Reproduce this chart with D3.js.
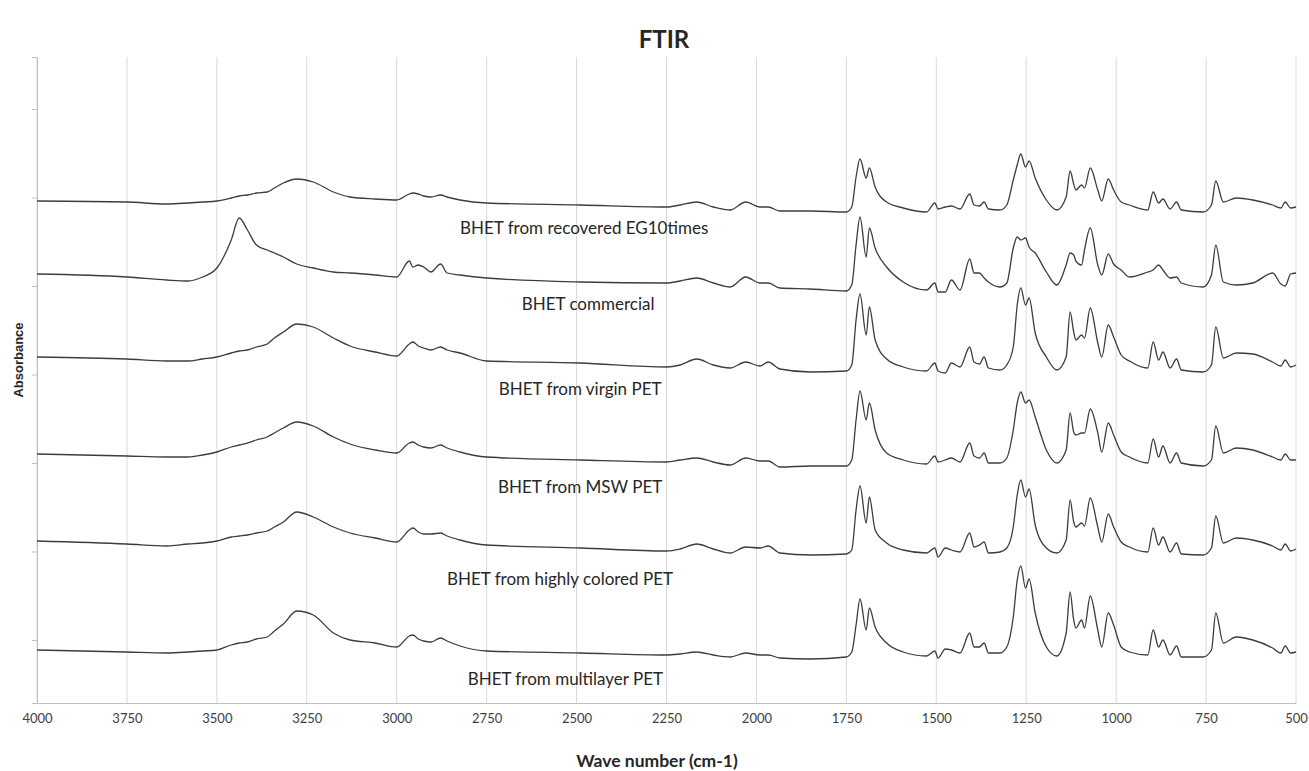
<!DOCTYPE html>
<html>
<head>
<meta charset="utf-8">
<script src="https://cdn.jsdelivr.net/npm/d3@7"></script>
<style>
  body { margin: 0; background: #fff; }
  text { fill: #262626; }
</style>
</head>
<body>
<script>
'use strict';

// wave numbers (cm-1) shared by every spectrum
const wavenumbers = [4000, 3750, 3640, 3580, 3540, 3500, 3460, 3438, 3415, 3390,
  3360, 3340, 3315, 3278, 3232, 3176, 3130, 3060, 3000, 2965,
  2955, 2940, 2925, 2905, 2878, 2860, 2824, 2750, 2490, 2250,
  2212, 2166, 2120, 2073, 2030, 1990, 1967, 1935, 1850, 1750,
  1735, 1723, 1712, 1695, 1686, 1670, 1638, 1592, 1527, 1504,
  1495, 1475, 1458, 1434, 1407, 1395, 1380, 1367, 1355, 1323,
  1304, 1286, 1275, 1265, 1252, 1242, 1225, 1194, 1165, 1139,
  1128, 1118, 1112, 1096, 1088, 1072, 1051, 1040, 1022, 1007,
  986, 963, 912, 897, 882, 870, 850, 832, 819, 758,
  735, 723, 702, 666, 620, 565, 542, 530, 515, 500];

// absorbance (stacked, arbitrary units)
const absRecovered = [5.02, 5.01, 4.99, 5.00, 5.01, 5.02, 5.05, 5.07, 5.08, 5.10,
  5.11, 5.15, 5.20, 5.24, 5.21, 5.11, 5.06, 5.04, 5.03, 5.09,
  5.10, 5.09, 5.07, 5.06, 5.08, 5.06, 5.03, 5.00, 4.98, 4.96,
  4.98, 5.01, 4.96, 4.93, 5.01, 4.96, 4.96, 4.92, 4.92, 4.91,
  4.96, 5.26, 5.44, 5.25, 5.35, 5.16, 5.01, 4.95, 4.91, 5.00,
  4.94, 4.96, 4.97, 4.94, 5.09, 4.98, 4.97, 5.01, 4.94, 4.93,
  4.98, 5.23, 5.38, 5.49, 5.36, 5.42, 5.25, 5.03, 4.93, 5.06,
  5.32, 5.19, 5.13, 5.18, 5.15, 5.35, 5.13, 5.02, 5.24, 5.13,
  5.01, 4.98, 4.93, 5.11, 5.00, 5.04, 4.94, 5.01, 4.93, 4.91,
  4.98, 5.22, 5.01, 5.05, 5.03, 4.98, 4.95, 5.01, 4.95, 4.96];

const absCommercial = [4.29, 4.26, 4.23, 4.22, 4.26, 4.35, 4.63, 4.85, 4.73, 4.58,
  4.53, 4.50, 4.46, 4.39, 4.35, 4.31, 4.30, 4.28, 4.26, 4.42,
  4.36, 4.38, 4.36, 4.31, 4.39, 4.30, 4.28, 4.25, 4.21, 4.20,
  4.22, 4.25, 4.20, 4.16, 4.26, 4.20, 4.20, 4.15, 4.14, 4.12,
  4.18, 4.58, 4.86, 4.46, 4.75, 4.55, 4.36, 4.21, 4.13, 4.20,
  4.11, 4.11, 4.23, 4.13, 4.44, 4.30, 4.30, 4.25, 4.21, 4.16,
  4.20, 4.55, 4.66, 4.63, 4.65, 4.56, 4.50, 4.31, 4.18, 4.38,
  4.50, 4.48, 4.42, 4.38, 4.53, 4.75, 4.38, 4.28, 4.49, 4.39,
  4.33, 4.26, 4.31, 4.33, 4.38, 4.33, 4.25, 4.26, 4.20, 4.16,
  4.28, 4.58, 4.21, 4.18, 4.20, 4.30, 4.19, 4.17, 4.29, 4.30];

const absVirgin = [3.46, 3.44, 3.42, 3.42, 3.44, 3.46, 3.50, 3.52, 3.53, 3.56,
  3.59, 3.65, 3.71, 3.79, 3.76, 3.65, 3.57, 3.51, 3.47, 3.59,
  3.61, 3.57, 3.55, 3.53, 3.56, 3.53, 3.50, 3.42, 3.40, 3.36,
  3.38, 3.44, 3.38, 3.35, 3.41, 3.37, 3.41, 3.34, 3.31, 3.32,
  3.38, 3.83, 4.09, 3.68, 3.96, 3.63, 3.44, 3.36, 3.32, 3.40,
  3.32, 3.30, 3.40, 3.36, 3.56, 3.41, 3.39, 3.46, 3.35, 3.33,
  3.38, 3.56, 3.98, 4.15, 3.98, 4.05, 3.70, 3.46, 3.33, 3.46,
  3.91, 3.71, 3.63, 3.68, 3.65, 3.95, 3.60, 3.46, 3.78, 3.66,
  3.48, 3.42, 3.35, 3.61, 3.43, 3.51, 3.35, 3.44, 3.33, 3.31,
  3.38, 3.76, 3.45, 3.50, 3.49, 3.41, 3.37, 3.43, 3.36, 3.38];

const absMSW = [2.49, 2.47, 2.46, 2.46, 2.48, 2.51, 2.56, 2.58, 2.60, 2.63,
  2.66, 2.70, 2.75, 2.81, 2.77, 2.66, 2.59, 2.53, 2.50, 2.60,
  2.61, 2.58, 2.56, 2.55, 2.58, 2.55, 2.51, 2.46, 2.43, 2.41,
  2.43, 2.45, 2.41, 2.38, 2.45, 2.42, 2.42, 2.36, 2.37, 2.37,
  2.43, 2.83, 3.12, 2.83, 3.00, 2.73, 2.50, 2.43, 2.39, 2.47,
  2.41, 2.43, 2.45, 2.41, 2.60, 2.47, 2.45, 2.50, 2.40, 2.40,
  2.45, 2.73, 3.00, 3.11, 3.00, 3.03, 2.86, 2.53, 2.40, 2.53,
  2.90, 2.71, 2.68, 2.70, 2.70, 2.94, 2.70, 2.51, 2.80, 2.68,
  2.51, 2.46, 2.40, 2.64, 2.46, 2.57, 2.40, 2.50, 2.40, 2.37,
  2.43, 2.77, 2.50, 2.55, 2.53, 2.46, 2.43, 2.49, 2.43, 2.43];

const absColored = [1.62, 1.59, 1.57, 1.59, 1.60, 1.62, 1.66, 1.67, 1.68, 1.70,
  1.72, 1.76, 1.81, 1.91, 1.86, 1.76, 1.70, 1.65, 1.61, 1.73,
  1.75, 1.71, 1.69, 1.69, 1.70, 1.67, 1.63, 1.58, 1.55, 1.52,
  1.54, 1.59, 1.54, 1.50, 1.56, 1.55, 1.57, 1.50, 1.48, 1.49,
  1.53, 1.93, 2.17, 1.80, 2.06, 1.73, 1.60, 1.53, 1.50, 1.55,
  1.46, 1.55, 1.53, 1.51, 1.70, 1.56, 1.58, 1.61, 1.50, 1.51,
  1.55, 1.76, 2.08, 2.23, 2.06, 2.14, 1.78, 1.55, 1.50, 1.63,
  2.03, 1.81, 1.76, 1.80, 1.77, 2.05, 1.76, 1.61, 1.89, 1.76,
  1.61, 1.56, 1.51, 1.75, 1.58, 1.66, 1.51, 1.60, 1.49, 1.48,
  1.55, 1.87, 1.60, 1.65, 1.63, 1.57, 1.53, 1.59, 1.52, 1.54];

const absMultilayer = [0.53, 0.51, 0.50, 0.51, 0.52, 0.53, 0.58, 0.60, 0.61, 0.64,
  0.66, 0.72, 0.79, 0.92, 0.88, 0.70, 0.63, 0.60, 0.56, 0.67,
  0.68, 0.64, 0.62, 0.61, 0.65, 0.62, 0.57, 0.52, 0.50, 0.48,
  0.49, 0.51, 0.48, 0.46, 0.50, 0.48, 0.48, 0.45, 0.44, 0.46,
  0.51, 0.78, 1.04, 0.73, 0.95, 0.76, 0.60, 0.51, 0.47, 0.52,
  0.45, 0.54, 0.53, 0.50, 0.70, 0.56, 0.56, 0.60, 0.50, 0.50,
  0.56, 0.86, 1.23, 1.37, 1.15, 1.24, 0.90, 0.56, 0.47, 0.70,
  1.11, 0.83, 0.75, 0.83, 0.75, 1.07, 0.73, 0.56, 0.90, 0.78,
  0.56, 0.51, 0.48, 0.73, 0.56, 0.63, 0.48, 0.57, 0.46, 0.46,
  0.53, 0.90, 0.60, 0.66, 0.63, 0.55, 0.50, 0.57, 0.50, 0.51];

const seriesNames = ["BHET from recovered EG10times", "BHET commercial", "BHET from virgin PET",
  "BHET from MSW PET", "BHET from highly colored PET", "BHET from multilayer PET"];

const xTicks = [4000, 3750, 3500, 3250, 3000, 2750, 2500, 2250, 2000, 1750, 1500, 1250, 1000, 750, 500];

(function() {
  const width = 1309, height = 771;
  const left = 37, right = 1296, top = 57, bottom = 703;

  const allSeries = [absRecovered, absCommercial, absVirgin, absMSW, absColored, absMultilayer];

  // where each caption sits: wave number of its centre and gap under the trace
  const captionAt = [
    { wn: 2479, gap: 22 },
    { wn: 2468, gap: 21 },
    { wn: 2490, gap: 25 },
    { wn: 2490, gap: 26 },
    { wn: 2546, gap: 30 },
    { wn: 2531, gap: 25 }
  ];

  const svg = d3.select('body').append('svg')
    .attr('width', width)
    .attr('height', height);

  const x = d3.scaleLinear().domain([4000, 500]).range([left, right]);
  const y = d3.scaleLinear().domain([0, 6.46]).range([bottom, top]);

  // vertical gridlines
  svg.append('g')
    .selectAll('line')
    .data(xTicks)
    .enter()
    .append('line')
      .attr('x1', d => x(d))
      .attr('x2', d => x(d))
      .attr('y1', top)
      .attr('y2', bottom)
      .attr('stroke', '#d9d9d9')
      .attr('stroke-width', 1);

  // bottom axis
  const xAxis = svg.append('g')
    .attr('transform', `translate(0, ${bottom})`)
    .call(d3.axisBottom(x).tickValues(xTicks).tickSize(0).tickPadding(11).tickFormat(d3.format('d')));
  xAxis.select('.domain').attr('stroke', '#bfbfbf');
  xAxis.selectAll('text')
    .style('font-family', 'Lato, sans-serif')
    .style('font-size', '13px')
    .style('fill', '#404040');

  // left axis, ticks only
  const yAxis = svg.append('g')
    .attr('transform', `translate(${left}, 0)`)
    .call(d3.axisLeft(y).tickValues(d3.range(0.63, 6.46, 0.885)).tickSize(5).tickFormat(''));
  yAxis.selectAll('line, path').attr('stroke', '#bfbfbf');

  // spectra
  const line = d3.line()
    .x((d, i) => x(wavenumbers[i]))
    .y(d => y(d))
    .curve(d3.curveMonotoneX);

  svg.append('g')
    .selectAll('path')
    .data(allSeries)
    .enter()
    .append('path')
      .attr('d', line)
      .attr('fill', 'none')
      .attr('stroke', '#3c3c3c')
      .attr('stroke-width', 1.3)
      .attr('stroke-linejoin', 'round');

  // captions under each trace
  seriesNames.forEach((name, k) => {
    const c = captionAt[k];
    const i = wavenumbers.indexOf(2490);
    svg.append('text')
      .attr('x', x(c.wn))
      .attr('y', y(allSeries[k][i]) + c.gap)
      .attr('text-anchor', 'middle')
      .attr('dominant-baseline', 'central')
      .style('font-family', 'Lato, sans-serif')
      .style('font-size', '17px')
      .text(name);
  });

  // title and axis labels
  svg.append('text')
    .attr('x', 664)
    .attr('y', 38)
    .attr('text-anchor', 'middle')
    .attr('dominant-baseline', 'central')
    .style('font-family', 'Lato, sans-serif')
    .style('font-weight', 'bold')
    .style('font-size', '24px')
    .text('FTIR');

  svg.append('text')
    .attr('x', 657)
    .attr('y', 760)
    .attr('text-anchor', 'middle')
    .attr('dominant-baseline', 'central')
    .style('font-family', 'Lato, sans-serif')
    .style('font-weight', 'bold')
    .style('font-size', '17.5px')
    .text('Wave number (cm-1)');

  svg.append('text')
    .attr('transform', 'translate(18, 360)rotate(-90)')
    .attr('text-anchor', 'middle')
    .attr('dominant-baseline', 'central')
    .style('font-family', '"Liberation Sans", Arial, sans-serif')
    .style('font-weight', 'bold')
    .style('font-size', '13px')
    .text('Absorbance');
})();
</script>
</body>
</html>
